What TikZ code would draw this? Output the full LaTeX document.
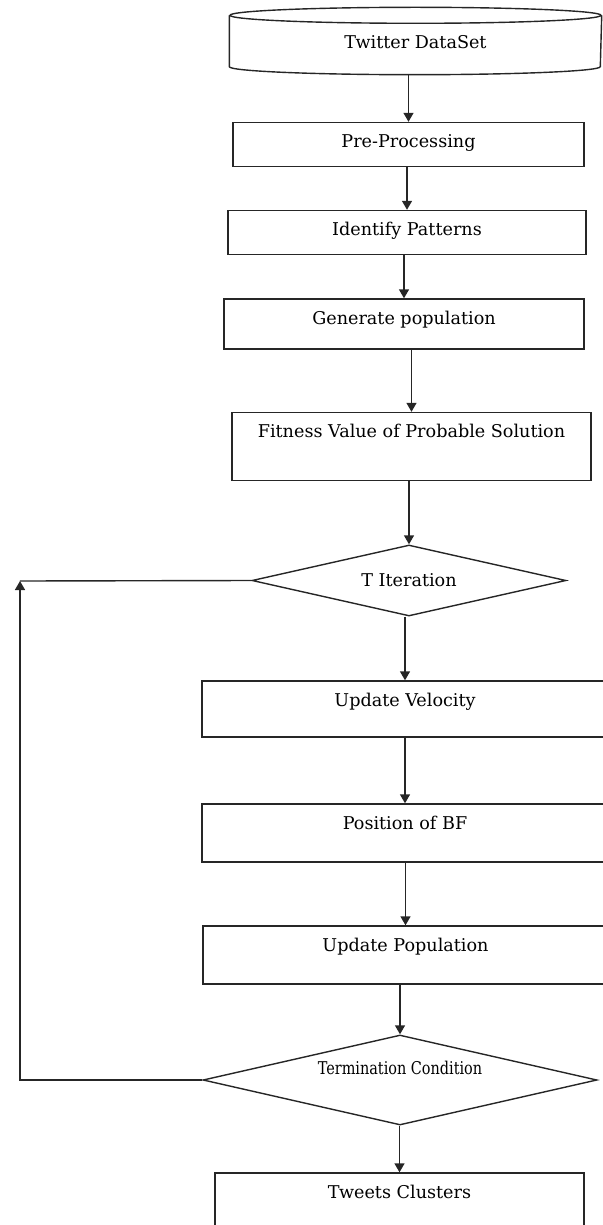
\documentclass[tikz,border=0pt]{standalone}
\usepackage{fontspec}
\setmainfont{DejaVu Serif}
\newfontfamily\narrowfont[FakeStretch=0.82]{DejaVu Serif}
\usetikzlibrary{arrows.meta,shapes.geometric}

\begin{document}
\begin{tikzpicture}[
  x=1pt, y=-1pt,
  every node/.style={font=\fontsize{17.6}{20}\selectfont},
  stage/.style={draw=black!85, line width=1.4pt, inner sep=0pt, text height=25pt},
  check/.style={draw=black!85, diamond, aspect=4.4, line width=1.4pt, inner sep=0pt},
  flow/.style={-{Triangle[length=9pt,width=10pt]}, draw=black!85, line width=1.4pt}
]
\useasboundingbox (0,0) rectangle (602,1225);

% data source drawn as a flat drum
\node[stage, draw=none, minimum width=371pt, text height=42pt, text depth=25pt] (data) at (415.5,40.5) {Twitter DataSet};
\draw[black!85, line width=1.4pt] ([yshift=-9pt]data.north west) -- ([yshift=8pt]data.south west)
  arc[start angle=180, end angle=360, x radius=185.5pt, y radius=8pt] -- ([yshift=-9pt]data.north east);
\draw[black!85, line width=1.4pt] ([yshift=-9pt]data.north) ellipse[x radius=185.5pt, y radius=8pt];

\node[stage, minimum width=351pt, text depth=19pt] (pre) at (408.5,144.5) {Pre-Processing};
\node[stage, minimum width=358pt, text depth=19pt] (ident) at (407,232.5) {Identify Patterns};
\node[stage, minimum width=360pt, text depth=25pt] (gen) at (404,324) {Generate population};
\node[stage, minimum width=359pt, text depth=43pt] (fit) at (411.5,446.5) {Fitness Value of Probable Solution};
\node[check, minimum width=314pt, minimum height=71pt] (titer) at (409,580.5) {T Iteration};
\node[stage, minimum width=406pt, text depth=31pt] (uvel) at (405,709) {Update Velocity};
\node[stage, minimum width=406pt, text depth=33pt] (pbf) at (405,833) {Position of BF};
\node[stage, minimum width=405pt, text depth=33pt] (upop) at (405.5,955) {Update Population};
\node[check, minimum width=394pt, minimum height=90pt, text height=0pt, text depth=11pt,
  font=\narrowfont\fontsize{17.6}{20}\selectfont] (term) at (400,1080) {Termination Condition};
\node[stage, minimum width=369pt, text depth=52pt] (tweets) at (399.5,1211.5) {Tweets Clusters};

\draw[flow] (data.south -| pre.north) -- (pre.north);
\draw[flow] (pre.south -| ident.north) -- (ident.north);
\draw[flow] (ident.south -| gen.north) -- (gen.north);
\draw[flow] (gen.south -| fit.north) -- (fit.north);
\draw[flow] (fit.south -| titer.north) -- (titer.north);
\draw[flow] (titer.south -| uvel.north) -- (uvel.north);
\draw[flow] (uvel.south -| pbf.north) -- (pbf.north);
\draw[flow] (pbf.south -| upop.north) -- (upop.north);
\draw[flow] (upop.south -| term.north) -- (term.north);
\draw[flow] (term.south -| tweets.north) -- (tweets.north);

% back edge of the loop
\coordinate (back) at (20,581);
\draw[flow] (term.west) -| (back);
\draw[black!85, line width=1.4pt] (back) -- (titer.west);
\end{tikzpicture}
\end{document}
